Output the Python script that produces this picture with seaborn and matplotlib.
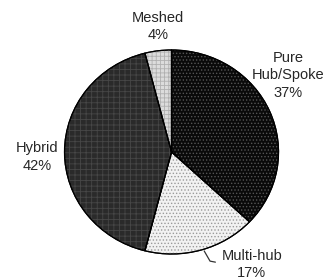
import matplotlib
matplotlib.use("Agg")
import matplotlib.pyplot as plt
import seaborn as sns

sns.set_style("white")
plt.rcParams['font.family'] = ['Liberation Sans', 'DejaVu Sans']

# data
categories = ['Pure\nHub/Spoke', 'Multi-hub', 'Hybrid', 'Meshed']
shares = [37, 17, 42, 4]

fills = ['#0a0a0a', '#f2f2f2', '#2a2a2a', '#dcdcdc']
hatch_colors = ['#555555', '#9a9a9a', '#474747', '#b0b0b0']
hatches = ['.....', '.....', '+++', '++++']

fig = plt.figure(figsize=(3.33, 2.8), dpi=100)
ax = fig.add_axes([0, 0, 1, 1])

wedges, _ = ax.pie(shares, startangle=90, counterclock=False, colors=fills,
                   wedgeprops=dict(edgecolor='black', linewidth=0.8))
# pattern overlay
plt.rcParams['hatch.linewidth'] = 0.6
over, _ = ax.pie(shares, startangle=90, counterclock=False,
                 wedgeprops=dict(fill=False, linewidth=0))
for w, h, c in zip(over, hatches, hatch_colors):
    w.set_hatch(h)
    w.set_edgecolor(c)
    w.set_linewidth(0)
# outlines on top
outl, _ = ax.pie(shares, startangle=90, counterclock=False,
                 wedgeprops=dict(fill=False, edgecolor='black', linewidth=0.9))

label_pos = [(1.09, 0.75), (0.75, -1.10), (-1.257, -0.05), (-0.125, 1.23)]
for name, val, (x, y) in zip(categories, shares, label_pos):
    ax.text(x, y, f"{name}\n{val}%", ha='center', va='center', fontsize=10.5,
            linespacing=1.3)

# leader line for Multi-hub
ax.plot([0.305, 0.36, 0.41], [-0.97, -1.07, -1.08], color='#333333', lw=0.9,
        zorder=5)

ax.set_aspect('auto')
ax.set_xlim(-1.603, 1.509)
ax.set_ylim(-1.255, 1.490)
ax.axis('off')

fig.savefig("out.png", dpi=100)
